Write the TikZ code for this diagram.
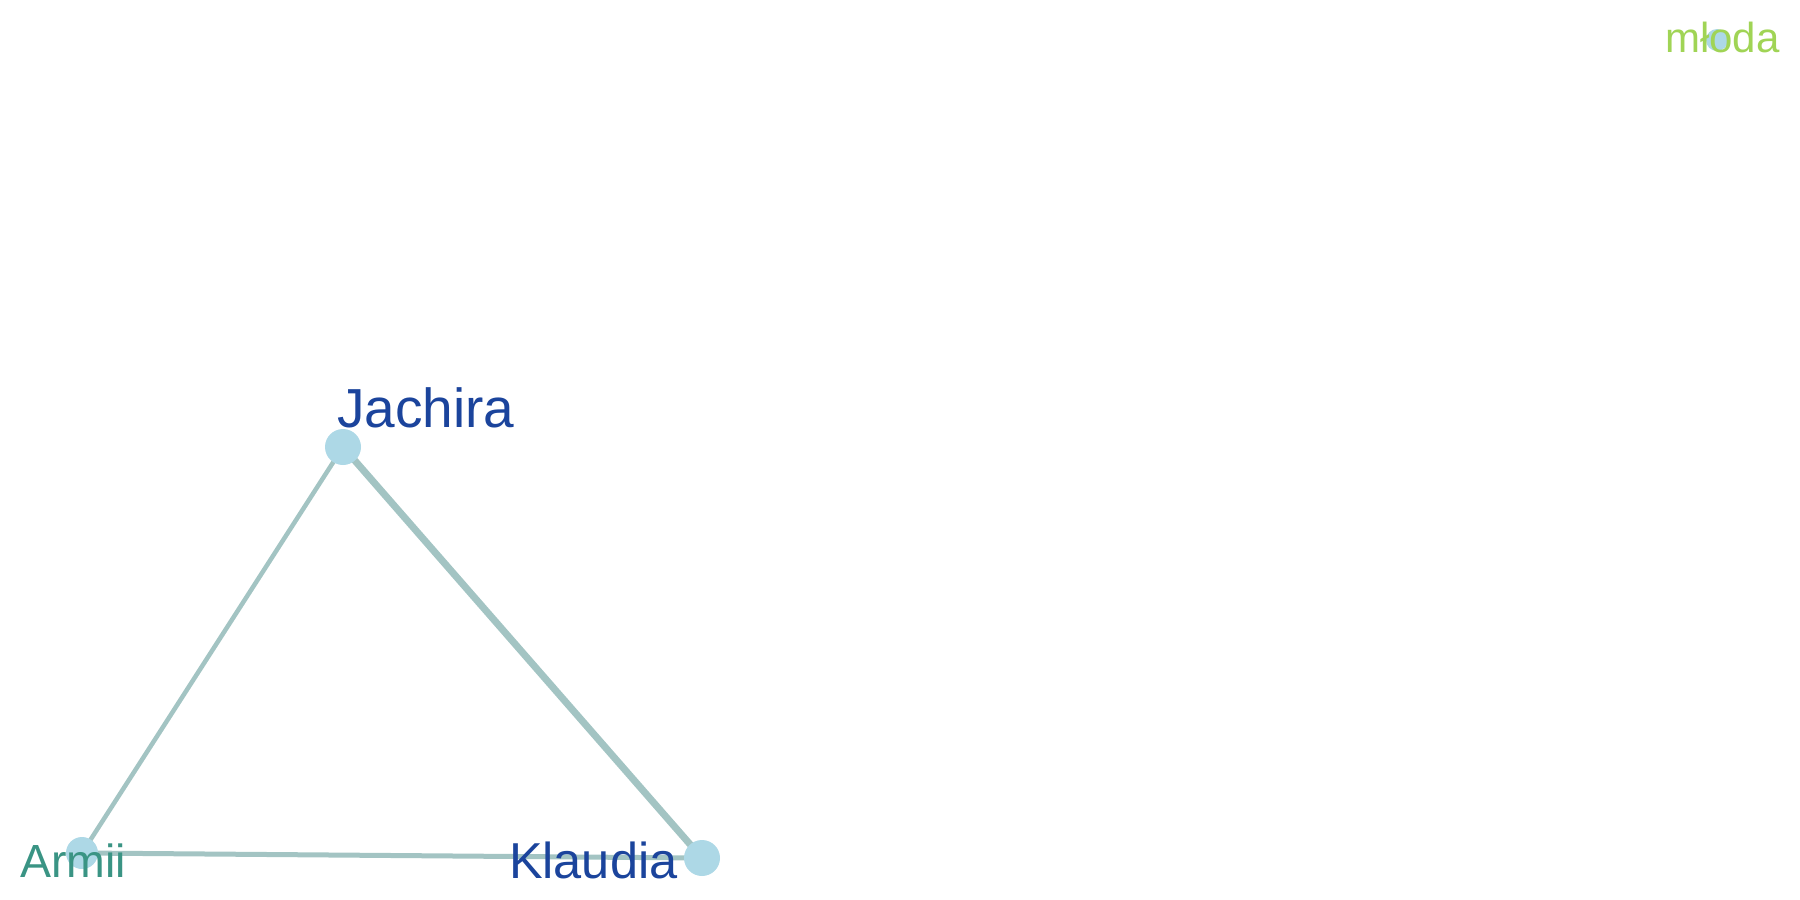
\documentclass[tikz,border=0pt]{standalone}
\usepackage{fontspec}
\setmainfont{Liberation Sans}
\definecolor{edgec}{HTML}{A3C4C3}
\definecolor{nodec}{HTML}{ADD8E6}
\definecolor{darkblue}{HTML}{1B449C}
\definecolor{tealc}{HTML}{3A9484}
\definecolor{greenc}{HTML}{A0D455}
\tikzset{
  vert/.style={circle, fill=nodec, inner sep=0pt, minimum size=#1},
  edge/.style={draw=edgec, line width=#1},
  lbl/.style={anchor=base west, inner sep=0pt, outer sep=0pt},
}
\begin{document}
\begin{tikzpicture}[x=1pt,y=-1pt]
\useasboundingbox (0,0) rectangle (1800,900);
\coordinate (cJ) at (343,447);
\coordinate (cA) at (82,853);
\coordinate (cK) at (702,858);
\coordinate (cM) at (1717,40);
\draw[edge=4.5pt] (cJ) -- (cA);
\draw[edge=7pt] (cJ) -- (cK);
\draw[edge=5pt] (cA) -- (cK);
\node[vert=36pt] (J) at (cJ) {};
\node[vert=32pt] (A) at (cA) {};
\node[vert=36pt] (K) at (cK) {};
\node[vert=22pt] (M) at (cM) {};
\node[lbl, text=darkblue, font=\fontsize{55}{60}\selectfont] (tJ) at (337,427) {Jachira};
\node[lbl, text=tealc, font=\fontsize{46.5}{50}\selectfont] (tA) at (20,877) {Armii};
\node[lbl, text=darkblue, font=\fontsize{50.5}{56}\selectfont] (tK) at (509,878) {Klaudia};
\node[lbl, text=greenc, font=\fontsize{42}{46}\selectfont] (tM) at (1665,52) {młoda};
\end{tikzpicture}
\end{document}
